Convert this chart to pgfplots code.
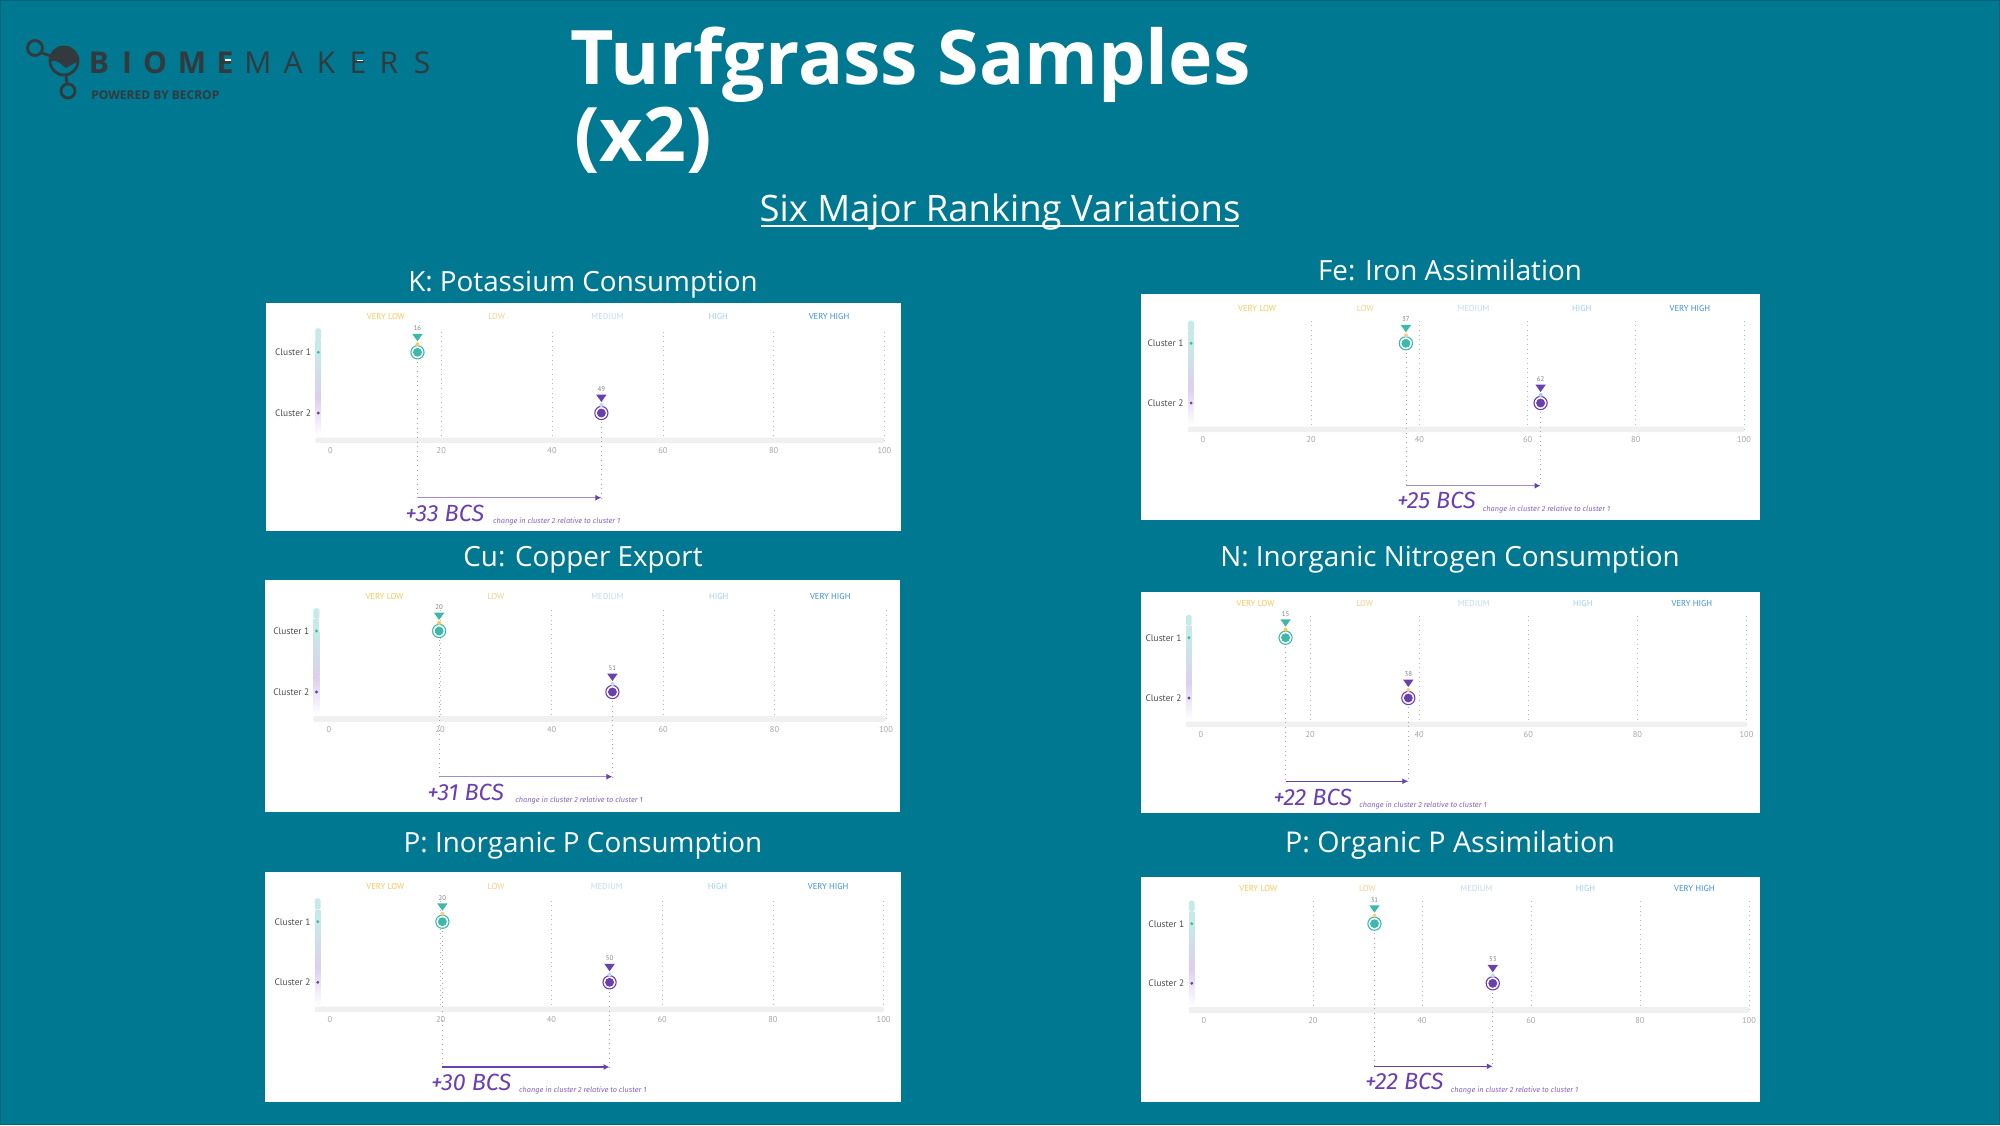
\documentclass[border=0pt]{standalone}
\usepackage{pgfplots}
\pgfplotsset{compat=1.18}
\usepackage{fontspec}
\usetikzlibrary{arrows.meta}
\setmainfont{Open Sans}
\newfontfamily\panelfont{PT Sans}
\newfontfamily\bcsfont{Fira Sans}
\definecolor{bgc}{HTML}{007891}
\definecolor{edgec}{HTML}{00657A}
\definecolor{teal1}{HTML}{3FB8AC}
\definecolor{purp}{HTML}{6A3FAE}
\definecolor{purpL}{HTML}{A58CD0}
\definecolor{vlow}{HTML}{F6C95A}
\definecolor{low}{HTML}{F5CF8A}
\definecolor{med}{HTML}{C2DBEF}
\definecolor{high}{HTML}{A0CFEE}
\definecolor{vhigh}{HTML}{3D8FD6}
\definecolor{logoc}{HTML}{333A3D}
\definecolor{railA}{HTML}{C6EAE6}
\definecolor{railB}{HTML}{DCCFEF}
\definecolor{barg}{HTML}{F0F0F0}
\pgfdeclareplotmark{downtri}{%
 \pgfpathmoveto{\pgfpoint{-2.6pt}{9.2pt}}%
 \pgfpathlineto{\pgfpoint{2.6pt}{9.2pt}}%
 \pgfpathlineto{\pgfpoint{0pt}{5.5pt}}%
 \pgfpathclose\pgfusepathqfill}
\pgfdeclareplotmark{updot}{%
 \pgfpathcircle{\pgfpoint{0pt}{4pt}}{1pt}\pgfusepathqfill}
\pgfkeys{/p/.cd,
 l/.store in=\pL,r/.store in=\pR,t/.store in=\pT,b/.store in=\pB,
 a0/.store in=\pAz,a100/.store in=\pAh,gt/.store in=\pGt,c1/.store in=\pCa,c2/.store in=\pCb,
 bar/.store in=\pBar,arr/.store in=\pArr,pa/.store in=\pPa,pb/.store in=\pPb,la/.store in=\pLa,lb/.store in=\pLb,
 ca/.store in=\pDa,cb/.store in=\pDb,bcs/.store in=\pBcs,bl/.store in=\pBl,by/.store in=\pBy,nl/.store in=\pNl,ny/.store in=\pNy,
 lc/.store in=\pLc,title/.store in=\pTitle,tx/.store in=\pTx,ty/.store in=\pTy,ts/.store in=\pTs,ts=13.9}
\newcommand\panel[1]{%
 \pgfkeys{/p/.cd,ts=13.9,#1}%
 \begin{scope}[x=0.5pt,y=-0.5pt]
  \fill[white] (\pL,\pT) rectangle (\pR,\pB);
  \node[white,font=\fontsize{\pTs}{16}\selectfont,inner sep=0pt] at (\pTx,\pTy) {\pTitle};
  \node[purp,anchor=west,inner sep=0pt,font=\bcsfont\itshape\fontsize{11.7}{13}\selectfont] at (\pBl,\pBy) {\pBcs};
  \node[purp!80,anchor=west,inner sep=0pt,font=\bcsfont\itshape\fontsize{3.7}{4}\selectfont] at (\pNl,\pNy) {change in cluster 2 relative to cluster 1};
 \end{scope}
 \pgfmathsetmacro\dy{\pCb-\pCa}
 \pgfmathsetmacro\yMin{1-(\pBar-\pCb)/\dy}
 \pgfmathsetmacro\yMax{2+(\pCa-\pGt)/\dy}
 \pgfmathsetmacro\yArr{1-(\pArr-\pCb)/\dy}
 \pgfmathsetmacro\yBa{1-(\pBar-2.8-\pCb)/\dy}
 \pgfmathsetmacro\yBb{1-(\pBar+2.8-\pCb)/\dy}
 \pgfmathsetmacro\yRb{1-(\pBar-4-\pCb)/\dy}
 \pgfmathsetmacro\axW{(\pAh-\pAz)*0.5}
 \pgfmathsetmacro\axH{(\pBar-\pGt)*0.5}
 \pgfmathsetmacro\axX{\pAz*0.5}
 \pgfmathsetmacro\axY{-\pBar*0.5}
 \begin{axis}[at={(\axX pt,\axY pt)},anchor=south west,scale only axis,width=\axW pt,height=\axH pt,
   xmin=0,xmax=100,ymin=\yMin,ymax=\yMax,clip=false,
   axis line style={draw=none},tick style={draw=none},major tick length=0pt,
   xtick={0,20,40,60,80,100},
   extra x ticks={20,40,60,80,100},extra x tick labels={},
   extra x tick style={grid=major,major grid style={draw=black!28,line width=0.35pt,dotted}},
   ytick={1,2},yticklabels={Cluster 2,Cluster 1},
   /pgf/number format/assume math mode=true,
   xticklabel style={font=\panelfont\fontsize{4.2}{4.5}\selectfont,text=black!35,yshift=-3.6pt,inner sep=0pt},
   yticklabel style={font=\panelfont\fontsize{4.7}{5}\selectfont,text=black!70,xshift=-9.6pt,inner sep=0pt,anchor=east}]
  % rail and base bar
  \fill[railA,rounded corners=0.8pt] (axis cs:-2.75,2.2) rectangle (axis cs:-1.7,\yMax);
  \fill[railA] (axis cs:-2.75,2) rectangle (axis cs:-1.7,2.2);
  \shade[top color=railA,bottom color=railB] (axis cs:-2.75,1.25) rectangle (axis cs:-1.7,2);
  \shade[top color=railB,bottom color=white] (axis cs:-2.75,\yRb) rectangle (axis cs:-1.7,1.25);
  \fill[barg,rounded corners=0.6pt] (axis cs:-2.75,\yBb) rectangle (axis cs:100,\yBa);
  % drop lines and arrow
  \addplot[black!35,line width=0.35pt,dotted,forget plot] coordinates {(\pPa,2) (\pPa,\yArr)};
  \addplot[black!35,line width=0.35pt,dotted,forget plot] coordinates {(\pPb,1) (\pPb,\yArr)};
  \addplot[\pLc,line width=0.75pt,-{Latex[length=3pt,width=3pt,color=purp]},forget plot] coordinates {(\pPa,\yArr) (\pPb,\yArr)};
  % rail dots
  \addplot[only marks,mark=*,mark size=0.5pt,teal1,forget plot] coordinates {(-2.2,2)};
  \addplot[only marks,mark=*,mark size=0.5pt,purp,forget plot] coordinates {(-2.2,1)};
  % cluster 1
  \addplot[only marks,mark=*,mark size=3.3pt,mark options={draw=teal1,fill=white,line width=0.55pt},forget plot] coordinates {(\pPa,2)};
  \addplot[only marks,mark=*,mark size=2pt,teal1,forget plot] coordinates {(\pPa,2)};
  \addplot[only marks,mark=updot,\pDa,mark options={fill=\pDa},forget plot] coordinates {(\pPa,2)};
  \addplot[only marks,mark=downtri,teal1,mark options={fill=teal1},forget plot] coordinates {(\pPa,2)};
  \node[font=\panelfont\fontsize{3.4}{4}\selectfont,text=black!50,yshift=12pt,inner sep=0pt] at (axis cs:\pPa,2) {\pLa};
  % cluster 2
  \addplot[only marks,mark=*,mark size=3.3pt,mark options={draw=purp,fill=white,line width=0.55pt},forget plot] coordinates {(\pPb,1)};
  \addplot[only marks,mark=*,mark size=2pt,purp,forget plot] coordinates {(\pPb,1)};
  \addplot[only marks,mark=updot,\pDb,mark options={fill=\pDb},forget plot] coordinates {(\pPb,1)};
  \addplot[only marks,mark=downtri,purp,mark options={fill=purp},forget plot] coordinates {(\pPb,1)};
  \node[font=\panelfont\fontsize{3.4}{4}\selectfont,text=black!50,yshift=12pt,inner sep=0pt] at (axis cs:\pPb,1) {\pLb};
  % bands
  \begin{scope}[every node/.style={font=\panelfont\fontsize{4.3}{4.5}\selectfont,yshift=6pt,inner sep=0pt}]
  \node[text=vlow] at (axis cs:10,\yMax) {VERY LOW};
  \node[text=low] at (axis cs:30,\yMax) {LOW};
  \node[text=med] at (axis cs:50,\yMax) {MEDIUM};
  \node[text=high] at (axis cs:70,\yMax) {HIGH};
  \node[text=vhigh] at (axis cs:90,\yMax) {VERY HIGH};
  \end{scope}
 \end{axis}
}
\begin{document}
\begin{tikzpicture}
\useasboundingbox (0,0) rectangle (1000pt,-562.5pt);
\begin{scope}[x=0.5pt,y=-0.5pt]
 \fill[bgc] (0,0) rectangle (2000,1125);
 \draw[edgec,line width=0.5pt] (0.5,0.5) rectangle (1999.5,1124.5);
 % logo icon
 \draw[logoc,line width=1.4pt] (35,48) circle (7.5);
 \draw[logoc,line width=1.4pt] (64,61) circle (14);
 \draw[logoc,line width=1.4pt] (68,91) circle (7);
 \draw[logoc,line width=1.4pt] (42,53) -- (51,56);
 \draw[logoc,line width=1.4pt] (66,75) -- (67,84);
 \fill[logoc] (50,62) .. controls (58,58) and (62,66) .. (66,68) .. controls (70,66) and (74,63) .. (78,62) arc[start angle=0,end angle=-180,radius=14] -- cycle;
 % logo text
 \foreach \xx/\ch in {99/B,127/I,155/O,192/M,225/E}
  \node[logoc,font=\bfseries\fontsize{15}{16}\selectfont,inner sep=0pt] at (\xx,63) {\ch};
 \foreach \xx/\ch in {258/M,293/A,326/K,358/E,389/R,422/S}
  \node[logoc,font=\fontsize{15}{16}\selectfont,inner sep=0pt] at (\xx,63) {\ch};
 \fill[white] (225,59) rectangle (231,61);
 \fill[white] (357,59.5) rectangle (363,61);
 \node[logoc,anchor=west,inner sep=0pt,font=\bfseries\fontsize{6}{7}\selectfont] at (91,95) {POWERED BY BECROP};
 % titles
 \node[white,anchor=west,inner sep=0pt,font=\bfseries\fontsize{37.6}{40}\selectfont] at (570,65) {Turfgrass Samples};
 \node[white,anchor=west,inner sep=0pt,font=\bfseries\fontsize{37.6}{40}\selectfont] at (574,140) {(x2)};
 \node[white,inner sep=0pt,font=\fontsize{18.2}{22}\selectfont] (six) at (1000,212) {Six Major Ranking Variations};
 \draw[white,line width=0.6pt] (761,226) -- (1239,226);
\end{scope}
\panel{title={K: Potassium Consumption},tx=583,ty=284.5,l=266,r=900.5,t=303,b=530.5,a0=330.5,a100=884.4,gt=328.3,c1=352.3,c2=413,bar=440.3,arr=497.7,pa=15.7,pb=48.9,la=16,lb=49,ca=vlow,cb=med,bcs={+33 BCS},bl=405,by=513.3,nl=492.6,ny=521.7,lc=purpL}
\panel{title={Fe: Iron Assimilation},tx=1450,ty=270,l=1140.8,r=1760.2,t=294,b=520,a0=1203,a100=1744,gt=320.7,c1=343.3,c2=403,bar=429.3,arr=485.7,pa=37.5,pb=62.4,la=37,lb=62,ca=low,cb=high,bcs={+25 BCS},bl=1396.6,by=500.7,nl=1482.4,ny=509.3,lc=purpL}
\panel{title={Cu: Copper Export},tx=583,ty=560,l=265,r=899.7,t=580,b=811.7,a0=328.8,a100=886,gt=608.3,c1=631,c2=692,bar=719,arr=776.7,pa=19.8,pb=50.9,la=20,lb=51,ca=vlow,cb=med,bcs={+31 BCS},bl=427,by=792.3,nl=515,ny=800.7,lc=purpL}
\panel{title={N: Inorganic Nitrogen Consumption},tx=1450,ty=560,l=1140.8,r=1760,t=591.7,b=813,a0=1201,a100=1746.5,gt=615,c1=637.7,c2=698,bar=724.3,arr=781.3,pa=15.5,pb=38,la=15,lb=38,ca=vlow,cb=low,bcs={+22 BCS},bl=1273,by=797,nl=1358.9,ny=805.3,lc=purp}
\panel{title={P: Inorganic P Consumption},tx=583,ty=846,l=265,r=901.4,t=871.7,b=1101.7,a0=330,a100=883.6,gt=898.3,c1=921.7,c2=982.3,bar=1009.3,arr=1067,pa=20.3,pb=50.5,la=20,lb=50,ca=low,cb=med,bcs={+30 BCS},bl=430.8,by=1082.3,nl=518.7,ny=1090.7,lc=purp}
\panel{title={P: Organic P Assimilation},ts=14.3,tx=1450,ty=845,l=1140.8,r=1760,t=876.7,b=1102,a0=1203.8,a100=1749,gt=900.7,c1=923.7,c2=983.3,bar=1010,arr=1066.3,pa=31.3,pb=53,la=31,lb=53,ca=low,cb=med,bcs={+22 BCS},bl=1364.7,by=1081.7,nl=1450.5,ny=1090,lc=purp}
\end{tikzpicture}
\end{document}
